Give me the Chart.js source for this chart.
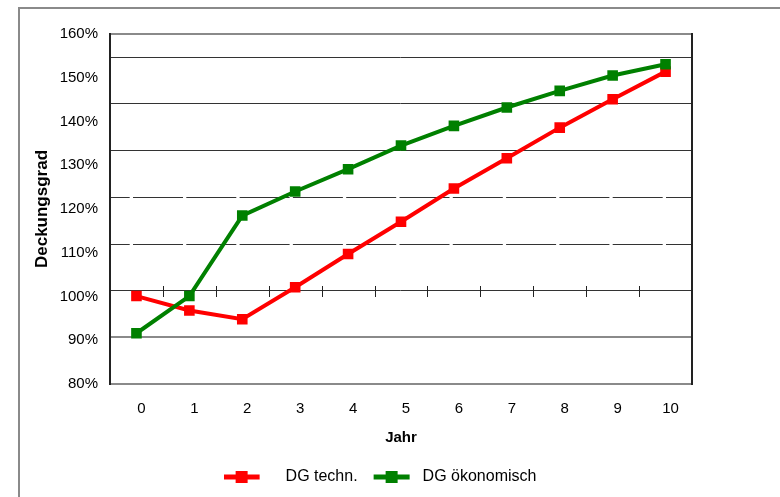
<!DOCTYPE html>
<html>
<head>
<meta charset="utf-8">
<script src="https://cdn.jsdelivr.net/npm/chart.js@4.4.0/dist/chart.umd.min.js"></script>
<style>
  html, body { margin: 0; padding: 0; background: #fff; overflow: hidden; }
  #frame { position: absolute; left: 18px; top: 7px; width: 800px; height: 520px; border: 2px solid #8a8a8a; }
  #chart { position: absolute; left: 0; top: 0; }
</style>
</head>
<body>
<div id="frame"></div>
<canvas id="chart" width="780" height="497"></canvas>
<script>
const years = ['0', '1', '2', '3', '4', '5', '6', '7', '8', '9', '10'];
const dgTechn = [100.1, 96.8, 94.8, 102.1, 109.7, 117.1, 124.7, 131.6, 138.6, 145.1, 151.4];
const dgOeko = [91.6, 100.1, 118.5, 124.0, 129.1, 134.5, 139.0, 143.2, 147.0, 150.5, 153.1];

// the horizontal lines in the original sit on their own 7.5-step grid, not on the % ticks
const solidGrid = [1, 2, 5, 6, 7, 7.5];
const greyGrid = [1, 7.5];
const dashedGrid = [3, 4];

const font = '"Liberation Sans", Arial, sans-serif';
Chart.defaults.font.family = font;
Chart.defaults.color = '#000';

function legendIcon(color, lineStart) {
  const c = document.createElement('canvas');
  c.width = 54;
  c.height = 14;
  const g = c.getContext('2d');
  g.strokeStyle = color;
  g.lineWidth = 5;
  g.beginPath();
  g.moveTo(lineStart, 7);
  g.lineTo(lineStart + 36, 7);
  g.stroke();
  g.fillStyle = color;
  g.fillRect(lineStart + 12, 1, 12, 12);
  return c;
}

const axisTicks = {
  id: 'axisTicks',
  beforeDatasetsDraw(chart) {
    const { ctx } = chart;
    const x = chart.scales.x;
    const yPix = Math.round(chart.scales.yGrid.getPixelForValue(2));
    ctx.save();
    ctx.strokeStyle = '#222';
    ctx.lineWidth = 1;
    for (let i = 0; i < years.length - 1; i++) {
      const xPix = Math.round((x.getPixelForValue(i) + x.getPixelForValue(i + 1)) / 2) + 0.5;
      ctx.beginPath();
      ctx.moveTo(xPix, yPix - 5);
      ctx.lineTo(xPix, yPix + 6);
      ctx.stroke();
    }
    ctx.restore();
  },
};

new Chart(document.getElementById('chart'), {
  type: 'line',
  data: {
    labels: years,
    datasets: [
      {
        label: 'DG ökonomisch',
        data: dgOeko,
        borderColor: '#008000',
        backgroundColor: '#008000',
        borderWidth: 4,
        pointStyle: 'rect',
        pointRadius: 7.5,
        pointBorderWidth: 0,
        tension: 0,
        yAxisID: 'y',
      },
      {
        label: 'DG techn.',
        data: dgTechn,
        borderColor: '#ff0000',
        backgroundColor: '#ff0000',
        borderWidth: 4,
        pointStyle: 'rect',
        pointRadius: 7.5,
        pointBorderWidth: 0,
        tension: 0,
        yAxisID: 'y',
      },
    ],
  },
  options: {
    responsive: false,
    animation: false,
    layout: { padding: { left: 0, right: 20, top: 34, bottom: 2 } },
    plugins: {
      tooltip: { enabled: false },
      legend: {
        position: 'bottom',
        labels: {
          usePointStyle: true,
          pointStyleWidth: 54,
          padding: 3,
          color: '#000',
          font: { size: 16 },
          generateLabels: () => [
            { text: 'DG techn.', pointStyle: legendIcon('#ff0000', 0), fillStyle: 'transparent', strokeStyle: 'transparent', lineWidth: 0, datasetIndex: 1 },
            { text: 'DG ökonomisch', pointStyle: legendIcon('#008000', 13), fillStyle: 'transparent', strokeStyle: 'transparent', lineWidth: 0, datasetIndex: 0 },
          ],
        },
      },
    },
    scales: {
      x: {
        offset: true,
        afterFit: s => { s.height = 82; },
        ticks: { padding: 16, labelOffset: 5, maxRotation: 0, autoSkip: false, color: '#000', font: { size: 15 } },
        grid: { display: false, drawTicks: false },
        border: { display: true, color: '#8a8a8a', width: 2 },
        title: { display: true, text: 'Jahr', color: '#000', font: { size: 15, weight: 'bold' }, padding: { top: 0, bottom: 19 } },
      },
      y: {
        position: 'left',
        min: 80,
        max: 160,
        afterFit: s => { s.width = 110; },
        ticks: { stepSize: 10, padding: 12, color: '#000', font: { size: 15 }, callback: v => v + '%' },
        grid: { display: false, drawTicks: false },
        border: { display: true, color: '#222', width: 2 },
        title: { display: true, text: 'Deckungsgrad', color: '#000', font: { size: 17, weight: 'bold' }, padding: { top: 32, bottom: 0 } },
      },
      yGrid: {
        position: 'right',
        min: 0,
        max: 7.5,
        afterBuildTicks: s => { s.ticks = solidGrid.map(v => ({ value: v })); },
        afterFit: s => { s.width = 68; },
        ticks: { display: false },
        grid: {
          drawTicks: false,
          color: ctx => (greyGrid.includes(ctx.tick && ctx.tick.value) ? '#8a8a8a' : '#333'),
          lineWidth: ctx => (greyGrid.includes(ctx.tick && ctx.tick.value) ? 2 : 1),
        },
        border: { display: true, color: '#222', width: 2 },
      },
      yDash: {
        position: 'right',
        min: 0,
        max: 7.5,
        afterBuildTicks: s => { s.ticks = dashedGrid.map(v => ({ value: v })); },
        afterFit: s => { s.width = 0; },
        ticks: { display: false },
        grid: { drawTicks: false, color: '#333', lineWidth: 1 },
        border: { display: false, dash: [50, 3.3], dashOffset: 30.3 },
      },
    },
  },
  plugins: [axisTicks],
});
</script>
</body>
</html>
